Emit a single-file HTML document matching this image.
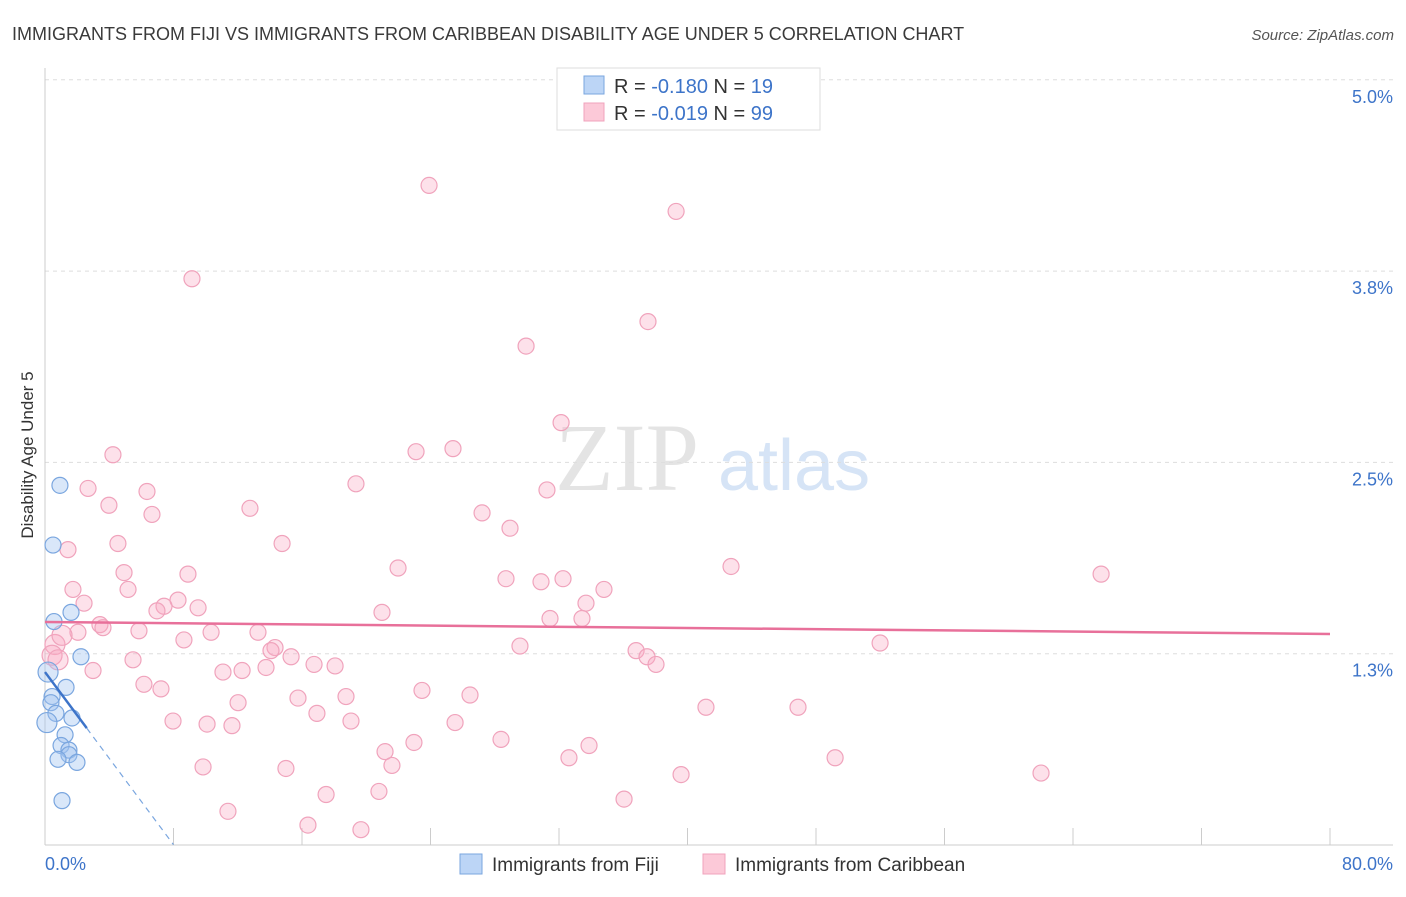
<!DOCTYPE html>
<html><head><meta charset="utf-8"><style>
body{margin:0;background:#fff;font-family:"Liberation Sans",sans-serif;}
svg text{font-family:"Liberation Sans",sans-serif;}
</style></head><body>
<svg id="chart" width="1406" height="892" viewBox="0 0 1406 892">
<text x="12" y="40" font-size="18" fill="#3a3a3a">IMMIGRANTS FROM FIJI VS IMMIGRANTS FROM CARIBBEAN DISABILITY AGE UNDER 5 CORRELATION CHART</text>
<text x="1394" y="40" font-size="15" fill="#555" text-anchor="end" font-style="italic">Source: ZipAtlas.com</text>
<text x="555" y="490" font-size="96" fill="#e4e4e4" font-family="Liberation Serif" style="font-family:'Liberation Serif',serif">ZIP</text>
<text x="718" y="490" font-size="72" fill="#d6e4f6">atlas</text>
<g id="grid"></g>
<g id="axes"></g>
<g id="marks"></g>
<text transform="translate(33,455) rotate(-90)" font-size="17" fill="#333" text-anchor="middle">Disability Age Under 5</text>
<g>
<rect x="557" y="68" width="263" height="62" fill="#fff" stroke="#ddd"/>
<rect x="584" y="76" width="20" height="18" fill="#bcd5f6" stroke="#7aa6df"/>
<rect x="584" y="103" width="20" height="18" fill="#fcc9d8" stroke="#f0a3bc"/>
<text x="614" y="93" font-size="20" fill="#333">R = <tspan fill="#3d74c9">-0.180</tspan>   N = <tspan fill="#3d74c9">19</tspan></text>
<text x="614" y="120" font-size="20" fill="#333">R = <tspan fill="#3d74c9">-0.019</tspan>   N = <tspan fill="#3d74c9">99</tspan></text>
</g>
<g>
<rect x="460" y="854" width="22" height="20" fill="#bcd5f6" stroke="#7aa6df"/>
<text x="492" y="871" font-size="19" fill="#333">Immigrants from Fiji</text>
<rect x="703" y="854" width="22" height="20" fill="#fcc9d8" stroke="#f0a3bc"/>
<text x="735" y="871" font-size="19" fill="#333">Immigrants from Caribbean</text>
</g>
</svg>
<script>
const yTicks=[5.0,3.75,2.5,1.25];
const yTickLabels=["5.0%","3.8%","2.5%","1.3%"];
const xTicks=[0,8,16,24,32,40,48,56,64,72,80];
const caribX=[23.91,39.29,9.15,37.54,29.95,32.13,25.40,23.10,4.23,19.36,2.68,6.35,31.25,3.98,12.76,6.66,27.21,28.95,4.54,14.76,1.43,21.98,42.71,4.92,8.90,28.70,30.88,32.25,65.75,1.74,5.17,34.80,8.28,2.43,33.68,7.41,6.97,9.53,20.98,31.44,33.43,3.42,3.61,5.85,13.26,2.05,10.34,8.65,29.57,51.99,14.32,14.07,36.80,37.48,15.32,5.48,38.04,16.75,18.06,2.99,11.08,12.27,13.76,6.16,7.22,23.47,15.75,18.74,26.46,12.02,41.15,46.88,16.93,7.97,10.09,11.64,19.05,25.53,28.39,22.97,33.87,21.17,21.60,32.62,49.19,9.84,15.00,39.60,62.01,17.50,20.79,36.05,11.39,16.37,19.67,0.62,0.44,0.81,1.06];
const caribY=[4.31,4.14,3.70,3.42,3.26,2.76,2.59,2.57,2.55,2.36,2.33,2.31,2.32,2.22,2.20,2.16,2.17,2.07,1.97,1.97,1.93,1.81,1.82,1.78,1.77,1.74,1.72,1.74,1.77,1.67,1.67,1.67,1.60,1.58,1.58,1.56,1.53,1.55,1.52,1.48,1.48,1.44,1.42,1.40,1.39,1.39,1.39,1.34,1.30,1.32,1.29,1.27,1.27,1.23,1.23,1.21,1.18,1.18,1.17,1.14,1.13,1.14,1.16,1.05,1.02,1.01,0.96,0.97,0.98,0.93,0.90,0.90,0.86,0.81,0.79,0.78,0.81,0.80,0.69,0.67,0.65,0.61,0.52,0.57,0.57,0.51,0.50,0.46,0.47,0.33,0.35,0.30,0.22,0.13,0.10,1.31,1.24,1.21,1.37];
const fijiX=[0.93,0.50,1.62,0.56,2.24,0.19,1.31,0.44,0.37,0.68,1.68,0.12,1.25,1.00,1.49,1.49,0.81,1.99,1.06];
const fijiY=[2.35,1.96,1.52,1.46,1.23,1.13,1.03,0.97,0.93,0.86,0.83,0.80,0.72,0.65,0.62,0.59,0.56,0.54,0.29];
const caribTrend=[1.457,1.379];
const fijiTrend={start:1.13,slope:-0.141,solidEnd:2.6,end:8.0};
const X=v=>45+v/80*1285, Y=v=>845-v/1.25*191.3;
const NS='http://www.w3.org/2000/svg';
function mk(p,tag,a){const e=document.createElementNS(NS,tag);for(const k in a)e.setAttribute(k,a[k]);p.appendChild(e);return e;}
const grid=document.getElementById('grid'),axes=document.getElementById('axes'),marks=document.getElementById('marks');
yTicks.forEach((t,i)=>{
 const l=mk(grid,'line',{x1:45,x2:1393,y1:Y(t),y2:Y(t),stroke:'#ddd','stroke-dasharray':'4,4'});
 
 
 const tx=mk(axes,'text',{x:1393,y:Y(t)+23,'font-size':18,fill:'#3d74c9','text-anchor':'end'});tx.textContent=yTickLabels[i];
 
 
});
xTicks.forEach(t=>{
 const l=mk(axes,'line',{x1:X(t),x2:X(t),y1:828,y2:845,stroke:'#ccc'});
 
 
});
const ax=mk(axes,'line',{x1:45,x2:1393,y1:845,y2:845,stroke:'#ccc'});


const ay=mk(axes,'line',{x1:45,x2:45,y1:68,y2:845,stroke:'#ccc'});


const x0=mk(axes,'text',{x:45,y:870,'font-size':18,fill:'#3d74c9'});x0.textContent='0.0%';


const x1=mk(axes,'text',{x:1393,y:870,'font-size':18,fill:'#3d74c9','text-anchor':'end'});x1.textContent='80.0%';


caribX.forEach((v,i)=>{
 const r=(v<1.2&&caribY[i]>1.15&&caribY[i]<1.4)?10:8;
 const c=mk(marks,'circle',{cx:X(v),cy:Y(caribY[i]),r:r,fill:'rgba(248,170,195,0.35)',stroke:'#f0a3bc','stroke-width':1.2});
 
 
});
fijiX.forEach((v,i)=>{
 const r=(v<0.2)?10:8;
 const c=mk(marks,'circle',{cx:X(v),cy:Y(fijiY[i]),r:r,fill:'rgba(160,195,240,0.4)',stroke:'#7aa6df','stroke-width':1.2});
 
 
});
const pt=mk(marks,'line',{x1:X(0),y1:Y(caribTrend[0]),x2:X(80),y2:Y(caribTrend[1]),stroke:'#e8709a','stroke-width':2.5});


const fy=x=>fijiTrend.start+fijiTrend.slope*x;
const bt=mk(marks,'line',{x1:X(0),y1:Y(fy(0)),x2:X(fijiTrend.solidEnd),y2:Y(fy(fijiTrend.solidEnd)),stroke:'#3d74c9','stroke-width':2.5});


const bd=mk(marks,'line',{x1:X(fijiTrend.solidEnd),y1:Y(fy(fijiTrend.solidEnd)),x2:X(fijiTrend.end),y2:Y(fy(fijiTrend.end)),stroke:'#7aa6df','stroke-width':1.2,'stroke-dasharray':'6,5'});


</script>
</body></html>
